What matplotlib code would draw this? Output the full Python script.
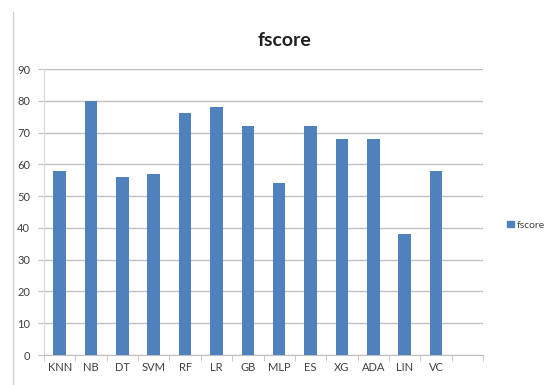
import matplotlib
matplotlib.use("Agg")
import matplotlib.pyplot as plt
from matplotlib.patches import Patch
from matplotlib.lines import Line2D
import numpy as np

models = ["KNN", "NB", "DT", "SVM", "RF", "LR", "GB", "MLP", "ES", "XG", "ADA", "LIN", "VC"]
fscore = [58, 80, 56, 57, 76, 78, 72, 54, 72, 68, 68, 38, 58]
yticks = [0, 10, 20, 30, 40, 50, 60, 70, 80, 90]

plt.rcParams["font.family"] = ["Lato", "DejaVu Sans"]

bar_color = "#4F81BD"
grid_color = "#C0C0C0"
text_color = "#404040"

fig = plt.figure(figsize=(5.52, 3.85), dpi=100)
ax = fig.add_axes([44 / 552, 30 / 385, (483 - 44) / 552, (355 - 69) / 385])

x = np.arange(len(models))
ax.bar(x, fscore, width=0.4, color=bar_color, zorder=3, label="fscore")

# one empty slot after the last category
ax.set_xlim(-0.5, len(models) + 0.5)
ax.set_ylim(0, 90)
ax.set_yticks(yticks)
ax.set_xticks(x)
ax.set_xticklabels(models)
ax.set_xticks(np.arange(-0.5, len(models) + 1, 1), minor=True)

ax.yaxis.grid(True, color=grid_color, linewidth=1.0, zorder=0)
ax.set_axisbelow(True)

for side in ["top", "right"]:
    ax.spines[side].set_visible(False)
ax.spines["left"].set_color("#D8D8D8")
ax.spines["bottom"].set_color(grid_color)

ax.tick_params(axis="y", length=4, color=grid_color, labelsize=8, labelcolor=text_color, pad=6)
ax.tick_params(axis="x", which="major", length=0, labelsize=8, labelcolor=text_color, pad=5)
ax.tick_params(axis="x", which="minor", length=4, color=grid_color)

fig.text(284 / 552, 1 - 40 / 385, "fscore", ha="center", va="center",
         fontsize=14, fontweight="bold", color="#202020")

# chart border on the left edge
fig.add_artist(Line2D([13 / 552, 13 / 552], [0, 1 - 12 / 385],
                      transform=fig.transFigure, color="#D0D0D0", linewidth=1.0))

fig.legend(handles=[Patch(color=bar_color, label="fscore")],
           loc="center left", bbox_to_anchor=(498 / 552, 1 - 225 / 385),
           frameon=False, fontsize=7.5, handlelength=0.6, handleheight=0.6,
           handletextpad=0.3, labelcolor=text_color)

fig.savefig("out.png", dpi=100)
